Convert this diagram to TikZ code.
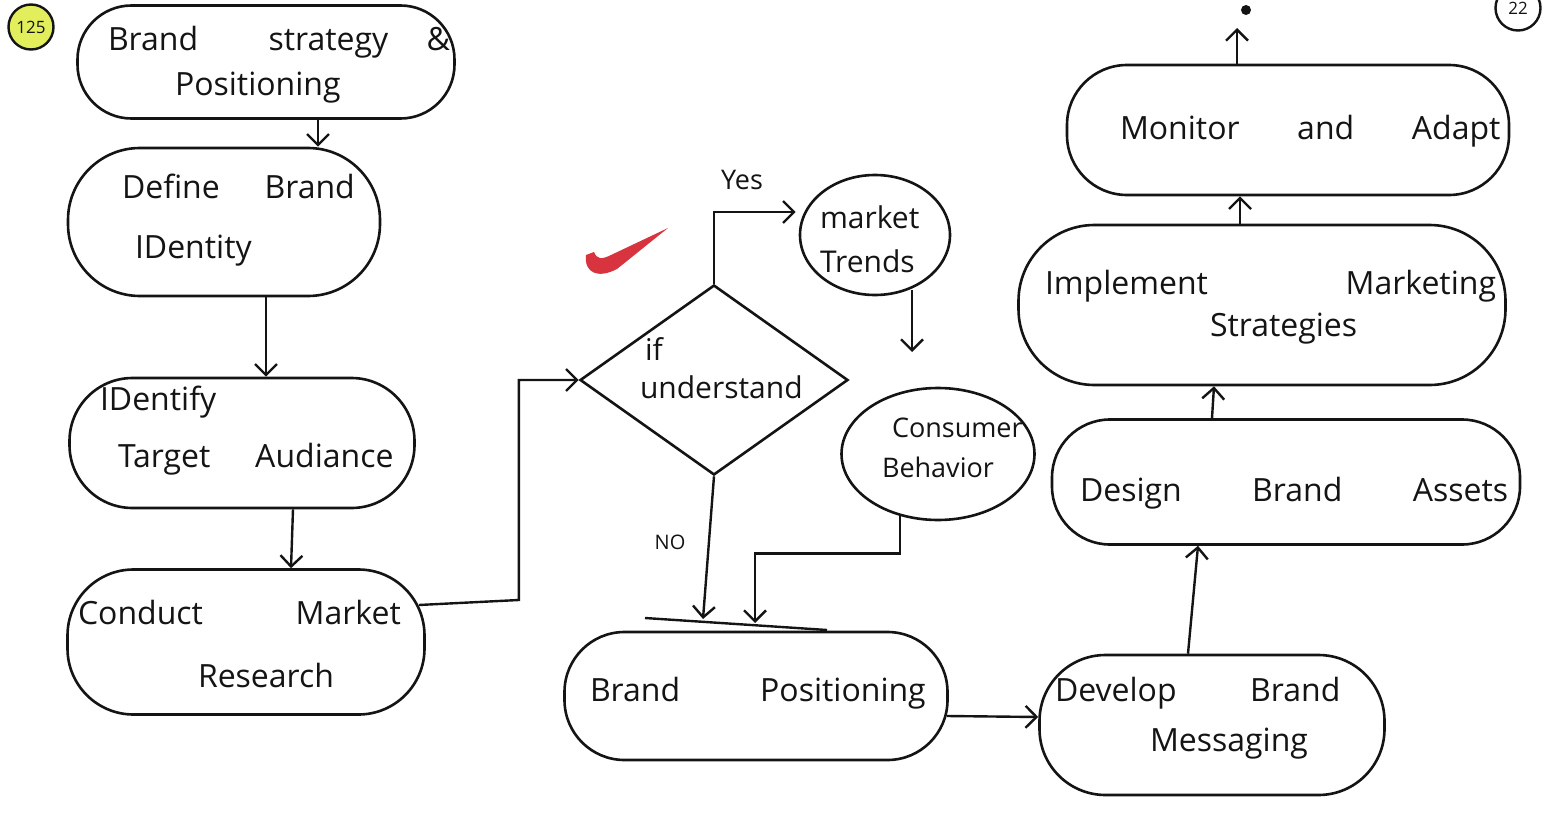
\documentclass[tikz,border=0pt]{standalone}
\usepackage{fontspec}
\setmainfont{Open Sans}
\usetikzlibrary{shapes.geometric,arrows.meta,calc}
\definecolor{inkc}{HTML}{141414}
\definecolor{checkred}{HTML}{D8343F}
\definecolor{hilite}{HTML}{E2EE5C}
\tikzset{
  blob/.style={draw=inkc, rectangle, rounded corners=#1, line width=2.6pt, inner sep=0pt,
    text=inkc, font=\fontsize{32}{45}\selectfont},
  blob/.default=55pt,
  oval/.style={draw=inkc, ellipse, line width=2.6pt, inner sep=0pt,
    text=inkc, font=\fontsize{30}{44}\selectfont},
  decide/.style={draw=inkc, diamond, line width=2.6pt, inner sep=0pt,
    text=inkc, font=\fontsize{30}{38}\selectfont},
  arr/.style={draw=inkc, line width=2.4pt,
    -{Straight Barb[length=11pt,width=22pt,line width=2.4pt]}},
  plain/.style={draw=inkc, line width=2.4pt},
  lbl/.style={text=inkc, inner sep=0pt},
  pagemark/.style={draw=inkc, circle, line width=2.4pt, inner sep=0pt,
    minimum size=45pt, text=inkc, font=\fontsize{17}{20}\selectfont},
}
% #1 left edge (pt from centre), #2 raise (pt), #3 lines
\newcommand{\tb}[3]{\makebox[0pt][l]{\hspace*{#1pt}\raisebox{#2pt}[0pt][0pt]{\begin{tabular}{@{}l@{}}#3\end{tabular}}}}
\newcommand{\gp}[1]{\hspace{#1em}}
\newcommand{\ind}[1]{\hspace*{#1pt}}
\begin{document}
\begin{tikzpicture}[x=1pt,y=-1pt]
\useasboundingbox (0,0) rectangle (1559,835);
\fill[white] (0,0) rectangle (1559,835);

% page marks
\node[pagemark, fill=hilite] (pg) at (31,27) {125};
\node[pagemark] (pg2) at (1518,8) {22};

% left column
\node[blob=54pt, minimum width=377pt, minimum height=113pt] (n1) at (266,62)
  {\tb{-158}{-8}{Brand\gp{2.2}strategy\gp{1.2}\&\\\ind{67}Positioning}};
\node[blob=72pt, minimum width=312pt, minimum height=148pt, font=\fontsize{32}{60}\selectfont] (n2) at (224,222)
  {\tb{-102}{-1}{Define\gp{1.4}Brand\\\ind{13}IDentity}};
\node[blob=63pt, minimum width=345pt, minimum height=130pt, font=\fontsize{32}{57}\selectfont] (n3) at (242,443)
  {\tb{-142}{9}{IDentify\\\ind{18}Target\gp{1.4}Audiance}};
\node[blob=66pt, minimum width=357pt, minimum height=145pt, font=\fontsize{32}{63}\selectfont] (n4) at (246,642)
  {\tb{-168}{-8}{Conduct\gp{2.9}Market\\\ind{120}Research}};

% decision
\node[decide, minimum width=268pt, minimum height=190pt] (d) at (714,380)
  {\tb{-74}{2}{\ind{5}if\\understand}};
\node[oval, minimum width=150pt, minimum height=120pt] (mt) at (875,235)
  {\tb{-55}{-13}{market\\Trends}};
\node[oval, minimum width=193pt, minimum height=132pt, font=\fontsize{27}{40}\selectfont] (cb) at (938,454)
  {\tb{-56}{-2}{\ind{10}Consumer\\Behavior}};
\node[lbl, font=\fontsize{27}{30}\selectfont] (yes) at (742,180) {Yes};
\node[lbl, font=\fontsize{20}{24}\selectfont] (no) at (670,542) {NO};

% bottom / right column
\node[blob=60pt, minimum width=383pt, minimum height=128pt] (bp) at (756,696)
  {\tb{-166}{-3}{Brand\gp{2.5}Positioning}};
\node[blob=66pt, minimum width=345pt, minimum height=140pt, font=\fontsize{32}{50}\selectfont] (dm) at (1212,725)
  {\tb{-157}{2}{Develop\gp{2.3}Brand\\\ind{95}Messaging}};
\node[blob=58pt, minimum width=468pt, minimum height=125pt] (da) at (1286,482)
  {\tb{-206}{-17}{Design\gp{2.2}Brand\gp{2.2}Assets}};
\node[blob=76pt, minimum width=487pt, minimum height=160pt, font=\fontsize{32}{42}\selectfont] (im) at (1262,305)
  {\tb{-217}{-8}{Implement\gp{4.3}Marketing\\\ind{165}Strategies}};
\node[blob=60pt, minimum width=442pt, minimum height=130pt] (mo) at (1288,130)
  {\tb{-168}{-7}{Monitor\gp{1.8}and\gp{1.8}Adapt}};

% junction bar and free ends
\coordinate (barL) at (645,618);
\coordinate (barR) at (827,630);
\coordinate (noEnd) at (703,619);
\coordinate (cbEnd) at (755,623);
\coordinate (mtEnd) at (912,352);
\coordinate (topEnd) at (1237,28);
\draw[plain] (barL) -- (barR);

% connectors
\draw[arr] ($(n1.south)+(52,0)$) -- ($(n2.north)+(94,0)$);
\draw[arr] ($(n2.south)+(42,0)$) -- ($(n3.north)+(24,0)$);
\draw[arr] ($(n3.south)+(51,0)$) -- ($(n4.north)+(45,0)$);
\draw[arr] ($(n4.east)+(-7,-37)$) -- ++(100,-5) |- (d.west);
\draw[arr] (d.north) |- ($(mt.west)+(-3,-23)$);
\draw[arr] ($(mt.south)+(37,-6)$) -- (mtEnd);
\draw[arr] (d.south) -- (noEnd);
\draw[arr] ($(cb.south)+(-38,-5)$) -- ++(0,37) -| (cbEnd);
\draw[arr] ($(bp.east)+(-2,20)$) -- ($(dm.west)+(0,-8)$);
\draw[arr] ($(dm.north)+(-24,0)$) -- ($(da.south)+(-88,0)$);
\draw[arr] ($(da.north)+(-74,0)$) -- ($(im.south)+(-48,0)$);
\draw[arr] ($(im.north)+(-22,0)$) -- ($(mo.south)+(-48,0)$);
\draw[arr] ($(mo.north)+(-51,0)$) -- (topEnd);
\fill[inkc] (1246,10) circle (5pt);

% red check mark
\fill[checkred] (586,255) .. controls (584,273) and (598,279) .. (617,269)
  -- (668,228) -- (611,255) .. controls (601,260) and (597,259) .. (594,252) -- cycle;
\end{tikzpicture}
\end{document}
